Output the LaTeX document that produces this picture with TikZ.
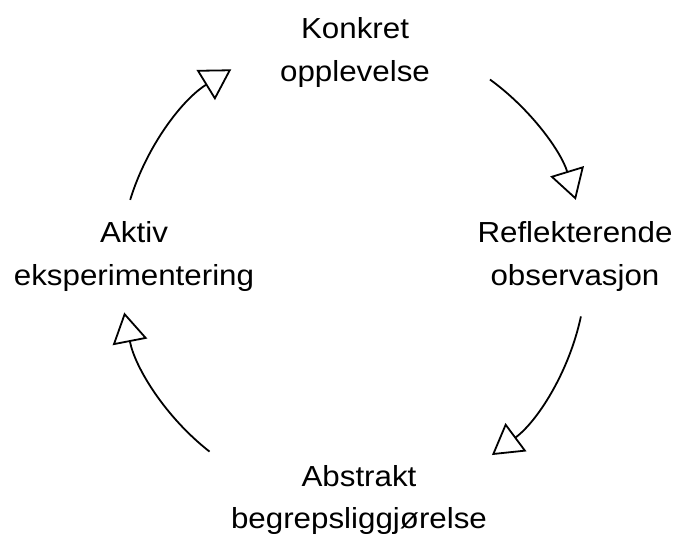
\documentclass[tikz,border=0pt]{standalone}
\usepackage{fontspec}
\setmainfont{Liberation Sans}[FakeStretch=1.08]
\usetikzlibrary{arrows.meta}
\tikzset{every path/.style={black,line width=1.8pt}, every node/.style={align=center, inner sep=0pt, anchor=base, font=\fontsize{29}{43}\selectfont}}
\tikzset{cycle arrow/.style={-{Triangle[open,length=30pt,width=35pt,line width=1.8pt]}}}

\begin{document}
\begin{tikzpicture}[x=1pt,y=1pt]
  \useasboundingbox (0,0) rectangle (675,536);
  \coordinate (m) at (353,268);
  \node (konkret) at (355,454) {Konkret\\opplevelse};
  \node (refl)    at (575,250) {Reflekterende\\observasjon};
  \node (abstr)   at (359,  7) {Abstrakt\\begrepsliggjørelse};
  \node (aktiv)   at (134,250) {Aktiv\\eksperimentering};
  \draw[cycle arrow] ([shift={(163:233)}]m) arc[start angle=163, end angle=121.5, radius=233];
  \draw[cycle arrow] ([shift={(54:233)}]m)  arc[start angle=54,  end angle=17,    radius=233];
  \draw[cycle arrow] ([shift={(-12:233)}]m) arc[start angle=-12, end angle=-53.4, radius=233];
  \draw[cycle arrow] ([shift={(-128:233)}]m) arc[start angle=-128, end angle=-169, radius=233];
\end{tikzpicture}
\end{document}
